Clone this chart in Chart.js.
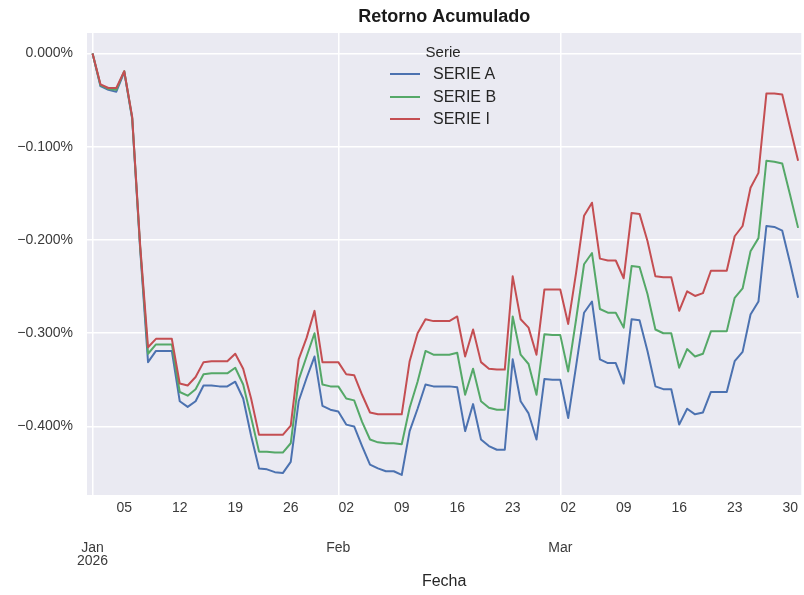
<!DOCTYPE html>
<html>
<head>
<meta charset="utf-8">
<script src="https://cdn.jsdelivr.net/npm/chart.js@4.4.1/dist/chart.umd.min.js"></script>
<style>
  body { margin: 0; background: #fff; overflow: hidden; }
  #wrap { position: relative; width: 804px; height: 595px; }
  #leyenda { position: absolute; left: 390px; top: 41px; font-family: "Liberation Sans", Arial, sans-serif; color: #262626; }
  #leyenda .titulo { height: 22px; line-height: 22px; text-align: center; font-size: 15px; }
  #leyenda .fila { display: flex; align-items: center; height: 22.5px; font-size: 16px; }
  #leyenda .linea { width: 30px; height: 2px; margin-right: 13px; }
</style>
</head>
<body>
<div id="wrap">
  <canvas id="chart-retorno" width="804" height="595"></canvas>
  <div id="leyenda"></div>
</div>
<script>
// Retorno acumulado diario (%), 1 ene 2026 .. 31 mar 2026 (fines de semana = valor del viernes)
const serieA = [
  // ene
  0, -0.035, -0.039, -0.041, -0.020, -0.070, -0.209, -0.331, -0.319, -0.319, -0.319,
  -0.373, -0.379, -0.373, -0.356, -0.356, -0.357, -0.357, -0.352, -0.370, -0.410,
  -0.445, -0.446, -0.449, -0.450, -0.438, -0.373, -0.348, -0.325, -0.378, -0.382,
  // feb
  -0.384, -0.398, -0.400, -0.421, -0.441, -0.445, -0.448, -0.448, -0.452, -0.405,
  -0.381, -0.355, -0.357, -0.357, -0.357, -0.358, -0.405, -0.376, -0.414, -0.421,
  -0.425, -0.425, -0.328, -0.373, -0.386, -0.414, -0.349, -0.350,
  // mar
  -0.350, -0.391, -0.335, -0.278, -0.266, -0.328, -0.332, -0.332, -0.354, -0.285,
  -0.286, -0.319, -0.357, -0.360, -0.360, -0.398, -0.381, -0.387, -0.385, -0.363,
  -0.363, -0.363, -0.330, -0.320, -0.280, -0.266, -0.185, -0.186, -0.190, -0.225, -0.262
];
const serieB = [
  0, -0.034, -0.038, -0.039, -0.019, -0.069, -0.207, -0.322, -0.312, -0.312, -0.312,
  -0.363, -0.367, -0.360, -0.344, -0.343, -0.343, -0.343, -0.337, -0.355, -0.390,
  -0.427, -0.427, -0.428, -0.428, -0.418, -0.350, -0.325, -0.300, -0.355, -0.357,
  -0.357, -0.370, -0.372, -0.395, -0.414, -0.417, -0.418, -0.418, -0.419, -0.380,
  -0.352, -0.319, -0.323, -0.323, -0.323, -0.321, -0.366, -0.338, -0.373, -0.380,
  -0.382, -0.382, -0.282, -0.323, -0.333, -0.366, -0.301, -0.302,
  -0.302, -0.341, -0.285, -0.226, -0.214, -0.274, -0.278, -0.278, -0.294, -0.228,
  -0.229, -0.258, -0.296, -0.300, -0.300, -0.337, -0.317, -0.325, -0.322, -0.298,
  -0.298, -0.298, -0.262, -0.252, -0.212, -0.198, -0.115, -0.116, -0.118, -0.152, -0.187
];
const serieI = [
  0, -0.033, -0.037, -0.037, -0.019, -0.068, -0.205, -0.315, -0.306, -0.306, -0.306,
  -0.354, -0.356, -0.347, -0.331, -0.330, -0.330, -0.330, -0.322, -0.338, -0.370,
  -0.409, -0.409, -0.409, -0.409, -0.399, -0.328, -0.305, -0.276, -0.331, -0.331,
  -0.331, -0.344, -0.345, -0.366, -0.385, -0.387, -0.387, -0.387, -0.387, -0.330,
  -0.300, -0.285, -0.287, -0.287, -0.287, -0.282, -0.325, -0.296, -0.331, -0.338,
  -0.339, -0.339, -0.239, -0.285, -0.294, -0.323, -0.253, -0.253,
  -0.253, -0.290, -0.235, -0.174, -0.160, -0.220, -0.222, -0.222, -0.241, -0.171,
  -0.172, -0.201, -0.239, -0.240, -0.240, -0.276, -0.255, -0.260, -0.257, -0.233,
  -0.233, -0.233, -0.196, -0.185, -0.144, -0.128, -0.043, -0.043, -0.044, -0.080, -0.115
];

// eje x: dias desde el 1 ene
const lunesDias = [4, 11, 18, 25, 32, 39, 46, 53, 60, 67, 74, 81, 88];
const lunesEtiquetas = ['05', '12', '19', '26', '02', '09', '16', '23', '02', '09', '16', '23', '30'];
const mesDias = [0, 31, 59];
const mesEtiquetas = [['Jan', '2026'], ['Feb'], ['Mar']];
const yTicks = [0, -0.1, -0.2, -0.3, -0.4];

const COLORS = { A: '#4C72B0', B: '#55A868', I: '#C44E52' };

Chart.defaults.font.family = '"Liberation Sans", Arial, sans-serif';
Chart.defaults.color = '#3a3a3a';

function toPoints(values) {
  return values.map((v, i) => ({ x: i, y: v }));
}

const plotBg = {
  id: 'plotBg',
  beforeDraw(chart) {
    const a = chart.chartArea;
    const ctx = chart.ctx;
    ctx.save();
    ctx.fillStyle = '#EAEAF2';
    ctx.fillRect(a.left, a.top, a.right - a.left, a.bottom - a.top);
    ctx.restore();
  }
};

const htmlLegend = {
  id: 'htmlLegend',
  afterUpdate(chart) {
    const box = document.getElementById('leyenda');
    box.innerHTML = '<div class="titulo">Serie</div>';
    chart.data.datasets.forEach(ds => {
      const row = document.createElement('div');
      row.className = 'fila';
      row.innerHTML = '<span class="linea" style="background:' + ds.borderColor + '"></span><span>' + ds.label + '</span>';
      box.appendChild(row);
    });
  }
};

function dataset(label, values, color, order) {
  return {
    label,
    data: toPoints(values),
    borderColor: color,
    backgroundColor: color,
    borderWidth: 2,
    pointRadius: 0,
    tension: 0,
    borderJoinStyle: 'round',
    order
  };
}

new Chart(document.getElementById('chart-retorno'), {
  type: 'line',
  data: {
    datasets: [
      dataset('SERIE A', serieA, COLORS.A, 2),
      dataset('SERIE B', serieB, COLORS.B, 1),
      dataset('SERIE I', serieI, COLORS.I, 0)
    ]
  },
  plugins: [plotBg, htmlLegend],
  options: {
    responsive: false,
    animation: false,
    layout: { padding: { top: 0, left: 0, right: 1, bottom: 0 } },
    plugins: {
      legend: { display: false },
      tooltip: { enabled: false },
      title: {
        display: true,
        text: 'Retorno Acumulado',
        fullSize: false,
        color: '#1a1a1a',
        font: { size: 18, weight: 'bold' },
        padding: { top: 6, bottom: 5.4 }
      }
    },
    scales: {
      x: {
        type: 'linear',
        min: -0.7,
        max: 89.4,
        border: { display: false },
        grid: {
          drawTicks: false,
          lineWidth: 1.5,
          color: c => (c.tick && mesDias.includes(c.tick.value)) ? '#ffffff' : 'rgba(0,0,0,0)'
        },
        afterBuildTicks(scale) {
          scale.ticks = mesDias.concat(lunesDias).sort((a, b) => a - b).map(v => ({ value: v }));
        },
        afterFit(scale) { scale.height = 100; },
        ticks: {
          autoSkip: false,
          maxRotation: 0,
          minRotation: 0,
          padding: 6,
          color: '#3a3a3a',
          font: { size: 14, lineHeight: 0.96 },
          callback(value) {
            const m = mesDias.indexOf(value);
            if (m >= 0) return ['', '', ''].concat(mesEtiquetas[m]);
            const l = lunesDias.indexOf(value);
            return l >= 0 ? lunesEtiquetas[l] : '';
          }
        },
        title: {
          display: true,
          text: 'Fecha',
          color: '#262626',
          font: { size: 16 },
          padding: { top: 0, bottom: 4 }
        }
      },
      y: {
        min: -0.4735,
        max: 0.022,
        border: { display: false },
        grid: { drawTicks: false, color: '#ffffff', lineWidth: 1.5 },
        afterBuildTicks(scale) {
          scale.ticks = yTicks.map(v => ({ value: v }));
        },
        afterFit(scale) { scale.width = 87; },
        ticks: {
          padding: 14,
          color: '#3a3a3a',
          font: { size: 14 },
          callback: v => (v < -1e-9 ? '\u2212' : '') + Math.abs(v).toFixed(3) + '%'
        }
      }
    }
  }
});
</script>
</body>
</html>
